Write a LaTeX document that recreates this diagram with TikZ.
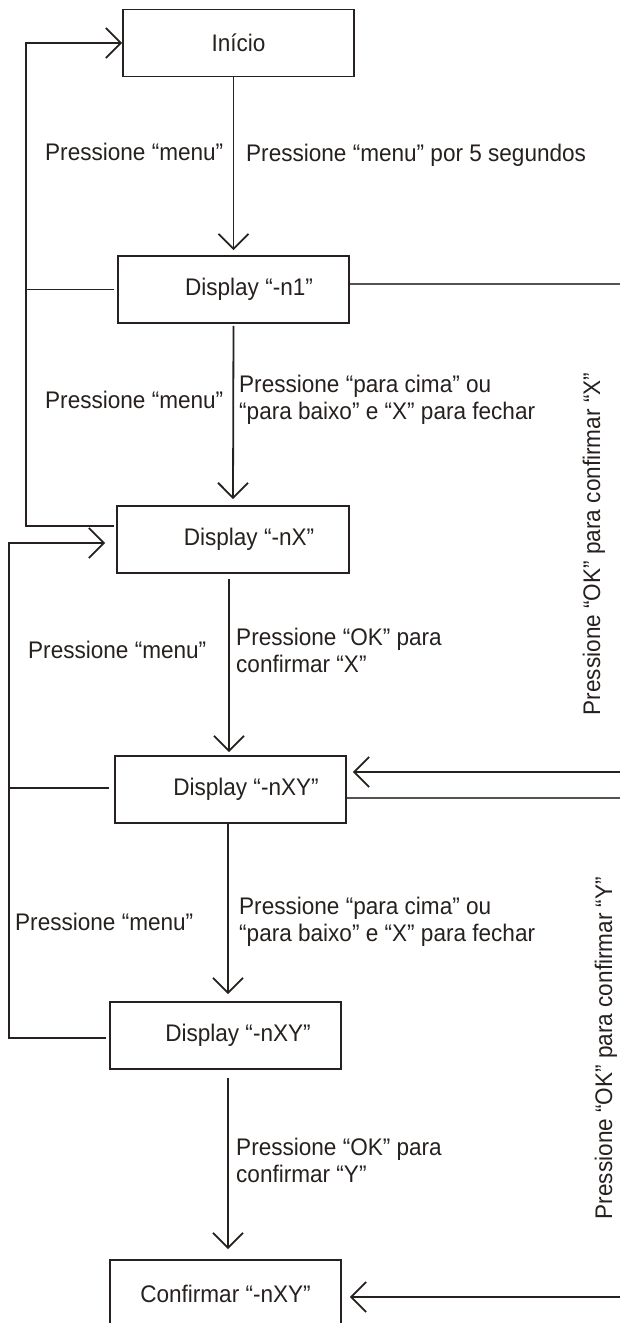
\documentclass[tikz,border=0pt]{standalone}
\usepackage{fontspec}
\setmainfont{Liberation Sans}[FakeStretch=0.94]
\usetikzlibrary{arrows.meta}
\definecolor{ink}{RGB}{38,33,30}
\definecolor{greyline}{RGB}{88,82,78}
\newcommand\diafont{\fontsize{24}{27}\selectfont}
\begin{document}
\begin{tikzpicture}[x=1pt,y=-1pt,
  box/.style={draw=ink, line width=1.8pt, minimum width=231pt, minimum height=67pt, inner sep=0pt, text=ink, font=\diafont},
  lbl/.style={inner sep=0pt, anchor=west, align=left, text=ink, font=\diafont},
  conn/.style={draw=ink, line width=1.8pt},
  thin/.style={draw=greyline, line width=1.8pt},
  arr/.style={conn, -{Straight Barb[length=15pt,width=30pt,line width=1.8pt]}}]
\clip (0,0) rectangle (620,1323);
\fill[white] (0,0) rectangle (620,1323);

% boxes
\node[box] (inicio) at (238.5,43) {Início};
\node[box] (n1) at (233.5,289.5) {\hspace*{31pt}Display “-n1”};
\node[box, minimum width=232pt] (nX) at (233,539.5) {\hspace*{32pt}Display “-nX”};
\node[box] (nXY1) at (230.5,789.5) {\hspace*{31pt}Display “-nXY”};
\node[box] (nXY2) at (225.5,1035.5) {\hspace*{25pt}Display “-nXY”};
\node[box] (conf) at (225.5,1293.5) {Confirmar “-nXY”};

% main vertical arrows
\draw[arr] (inicio.south -| n1.north) -- ([yshift=5pt]n1.north);
\draw[arr] ([yshift=-2pt]n1.south) -- ([yshift=6pt]nX.north);
\draw[arr] ([xshift=-4pt,yshift=-5pt]nX.south) -- ([xshift=-1.5pt,yshift=3pt]nXY1.north);
\draw[arr] ([xshift=-2.5pt]nXY1.south) -- ([xshift=2.5pt,yshift=7pt]nXY2.north);
\draw[arr] ([xshift=2.5pt,yshift=-8pt]nXY2.south) -- ([xshift=2.5pt,yshift=10pt]conf.north);

% left loop A (back to Inicio)
\coordinate (lA) at (26,526);
\draw[arr] ([xshift=-2pt,yshift=13.5pt]nX.west) -- (lA) |- (inicio.west);
\draw[conn] ([xshift=-3pt]n1.west) coordinate (s0) -- (s0 -| lA);

% left loop B (back to Display -nX)
\coordinate (lB) at (9,1038);
\draw[arr] ([xshift=-3pt,yshift=-2.5pt]nXY2.west) -- (lB) |- ([xshift=-11pt,yshift=-3.5pt]nX.west);
\draw[conn] ([xshift=-5pt,yshift=1.5pt]nXY1.west) coordinate (s1) -- (s1 -| lB);

% right side
\coordinate (rA) at (621,284);
\coordinate (rB) at (621,772);
\coordinate (rC) at (621,798);
\coordinate (rD) at (621,1297);
\draw[thin] ([yshift=5.5pt]n1.east) -- (rA);
\draw[arr] (rB) -- ([xshift=6pt,yshift=17.5pt]nXY1.east);
\draw[thin] ([yshift=-8.5pt]nXY1.east) -- (rC);
\draw[arr] (rD) -- ([xshift=8pt,yshift=-3.5pt]conf.east);

% labels
\node[lbl] (l1) at (45,152) {Pressione “menu”};
\node[lbl] (l2) at (246,155) {Pressione “menu” por 5 segundos};
\node[lbl] (l3) at (45,400) {Pressione “menu”};
\node[lbl] (l4) at (239,399.5) {Pressione “para cima” ou\\“para baixo” e “X” para fechar};
\node[lbl] (l5) at (28,650) {Pressione “menu”};
\node[lbl] (l6) at (236,650) {Pressione “OK” para\\confirmar “X”};
\node[lbl] (l7) at (15,922) {Pressione “menu”};
\node[lbl] (l8) at (239,922) {Pressione “para cima” ou\\“para baixo” e “X” para fechar};
\node[lbl] (l9) at (236,1160) {Pressione “OK” para\\confirmar “Y”};
\node[lbl, anchor=center, rotate=90] (r1) at (594,544) {Pressione “OK” para confirmar “X”};
\node[lbl, anchor=center, rotate=90] (r2) at (606,1048) {Pressione “OK” para confirmar “Y”};
\end{tikzpicture}
\end{document}
